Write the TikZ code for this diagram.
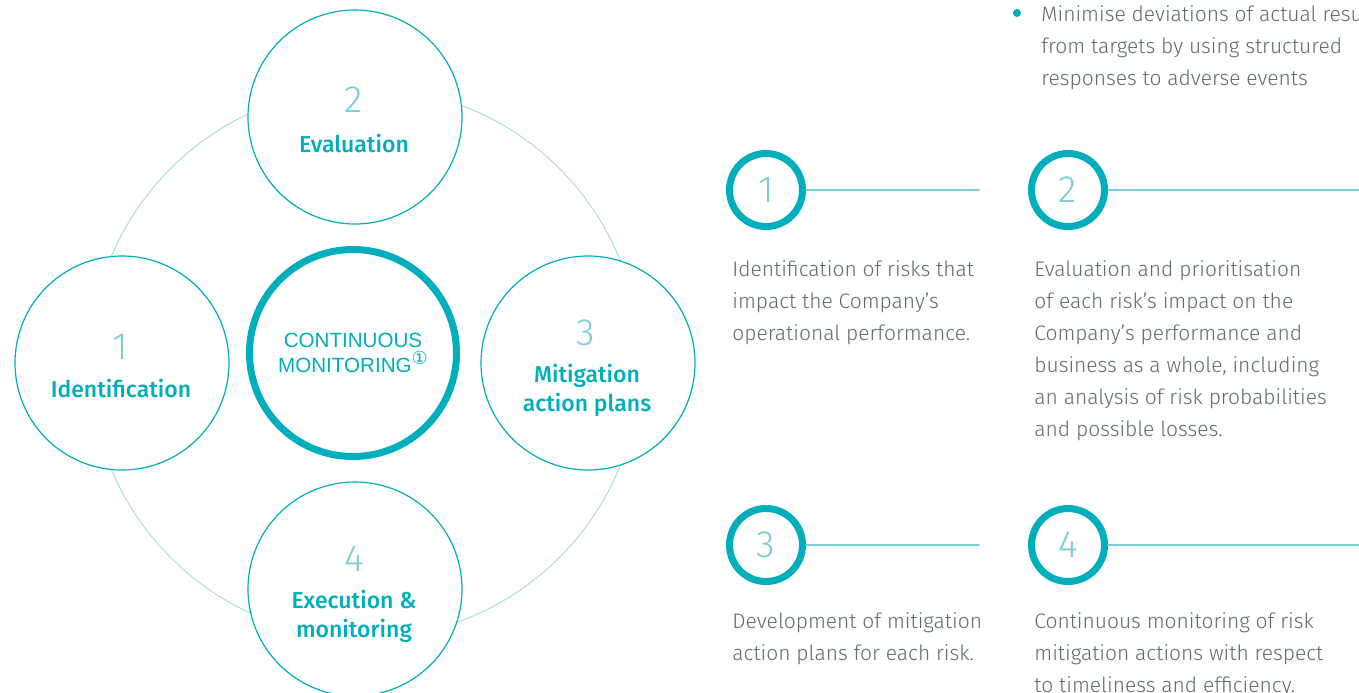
\documentclass[tikz,border=0pt]{standalone}
\usepackage{fontspec}
\setmainfont{Fira Sans}[UprightFont=* Light, BoldFont=* Medium]
\newfontfamily\capsfont{Liberation Sans}
\newfontfamily\symbfont{DejaVu Sans}
\usetikzlibrary{positioning}
\definecolor{rteal}{HTML}{00AEBC}
\definecolor{rpale}{HTML}{7ACFD6}
\definecolor{rfaint}{HTML}{A9DEE3}
\definecolor{rgray}{HTML}{5E6A72}
\tikzset{
  every picture/.style={line join=round, line cap=round, x=0.5pt, y=-0.5pt},
  stage/.style={circle, draw=rteal, line width=0.6pt, fill=white, minimum size=107pt, inner sep=0pt},
  hub/.style={circle, draw=rteal, line width=3.5pt, fill=white, minimum size=103.5pt, inner sep=0pt,
    text=rteal, align=center, font=\capsfont\fontsize{10.3}{12.5}\selectfont},
  ring/.style={circle, draw=rteal, line width=3.5pt, minimum size=36.5pt, inner sep=0pt,
    text=rpale, font=\fontsize{19}{19}\selectfont},
  stagenum/.style={text=rpale, inner sep=0pt, font=\fontsize{19}{19}\selectfont},
  stagename/.style={text=rteal, inner sep=0pt, align=center, font=\bfseries\fontsize{11.5}{14.5}\selectfont},
  para/.style={anchor=north west, inner sep=0pt, align=left, text=rgray, font=\fontsize{10.5}{16}\selectfont},
  rule/.style={draw=rpale, line width=0.75pt},
  faint/.style={draw=rfaint, line width=0.5pt},
}

\begin{document}
\begin{tikzpicture}
\clip (0,0) rectangle (1359,692);
\fill[white] (0,0) rectangle (1359,692);
\draw[faint] (365,363) circle[radius=275];
\node[stage] (s1) at (122,363) {};
\node[stage] (s2) at (355,117) {};
\node[stage] (s3) at (588,363) {};
\node[stage] (s4) at (355,589) {};
\node[hub] (hub) at (353,353) {CONTINUOUS\\MONITORING\raisebox{0.4em}{\symbfont\fontsize{9}{9}\selectfont ①}};
\node[stagenum] (n1) at (120,347) {1};
\node[stagename] (t1) at (121,388) {Identification};
\node[stagenum] (n2) at (354,100) {2};
\node[stagename] (t2) at (354,143) {Evaluation};
\node[stagenum] (n3) at (586,333) {3};
\node[stagename] (t3) at (587,390) {Mitigation\\action plans};
\node[stagenum] (n4) at (354,559) {4};
\node[stagename] (t4) at (354,616) {Execution \&\\monitoring};
\fill[rteal] (1017,13) circle[radius=4];
\node[para] (bullet) at (1041,5) {Minimise deviations of actual results\\from targets by using structured\\responses to adverse events};
\node[ring] (r1) at (766,190) {1};
\node[ring] (r2) at (1068,190) {2};
\node[ring] (r3) at (766,545) {3};
\node[ring] (r4) at (1068,545) {4};
\coordinate (e1) at (979,190);
\coordinate (e2) at (1359,190);
\coordinate (e3) at (979,545);
\coordinate (e4) at (1359,545);
\draw[rule] (r1) -- (e1);
\draw[rule] (r2) -- (e2);
\draw[rule] (r3) -- (e3);
\draw[rule] (r4) -- (e4);
\node[para] (p1) at (732,260) {Identification of risks that\\impact the Company's\\operational performance.};
\node[para] (p2) at (1034,260) {Evaluation and prioritisation\\of each risk's impact on the\\Company's performance and\\business as a whole, including\\an analysis of risk probabilities\\and possible losses.};
\node[para] (p3) at (732,612) {Development of mitigation\\action plans for each risk.};
\node[para] (p4) at (1034,612) {Continuous monitoring of risk\\mitigation actions with respect\\to timeliness and efficiency.};
\end{tikzpicture}
\end{document}
